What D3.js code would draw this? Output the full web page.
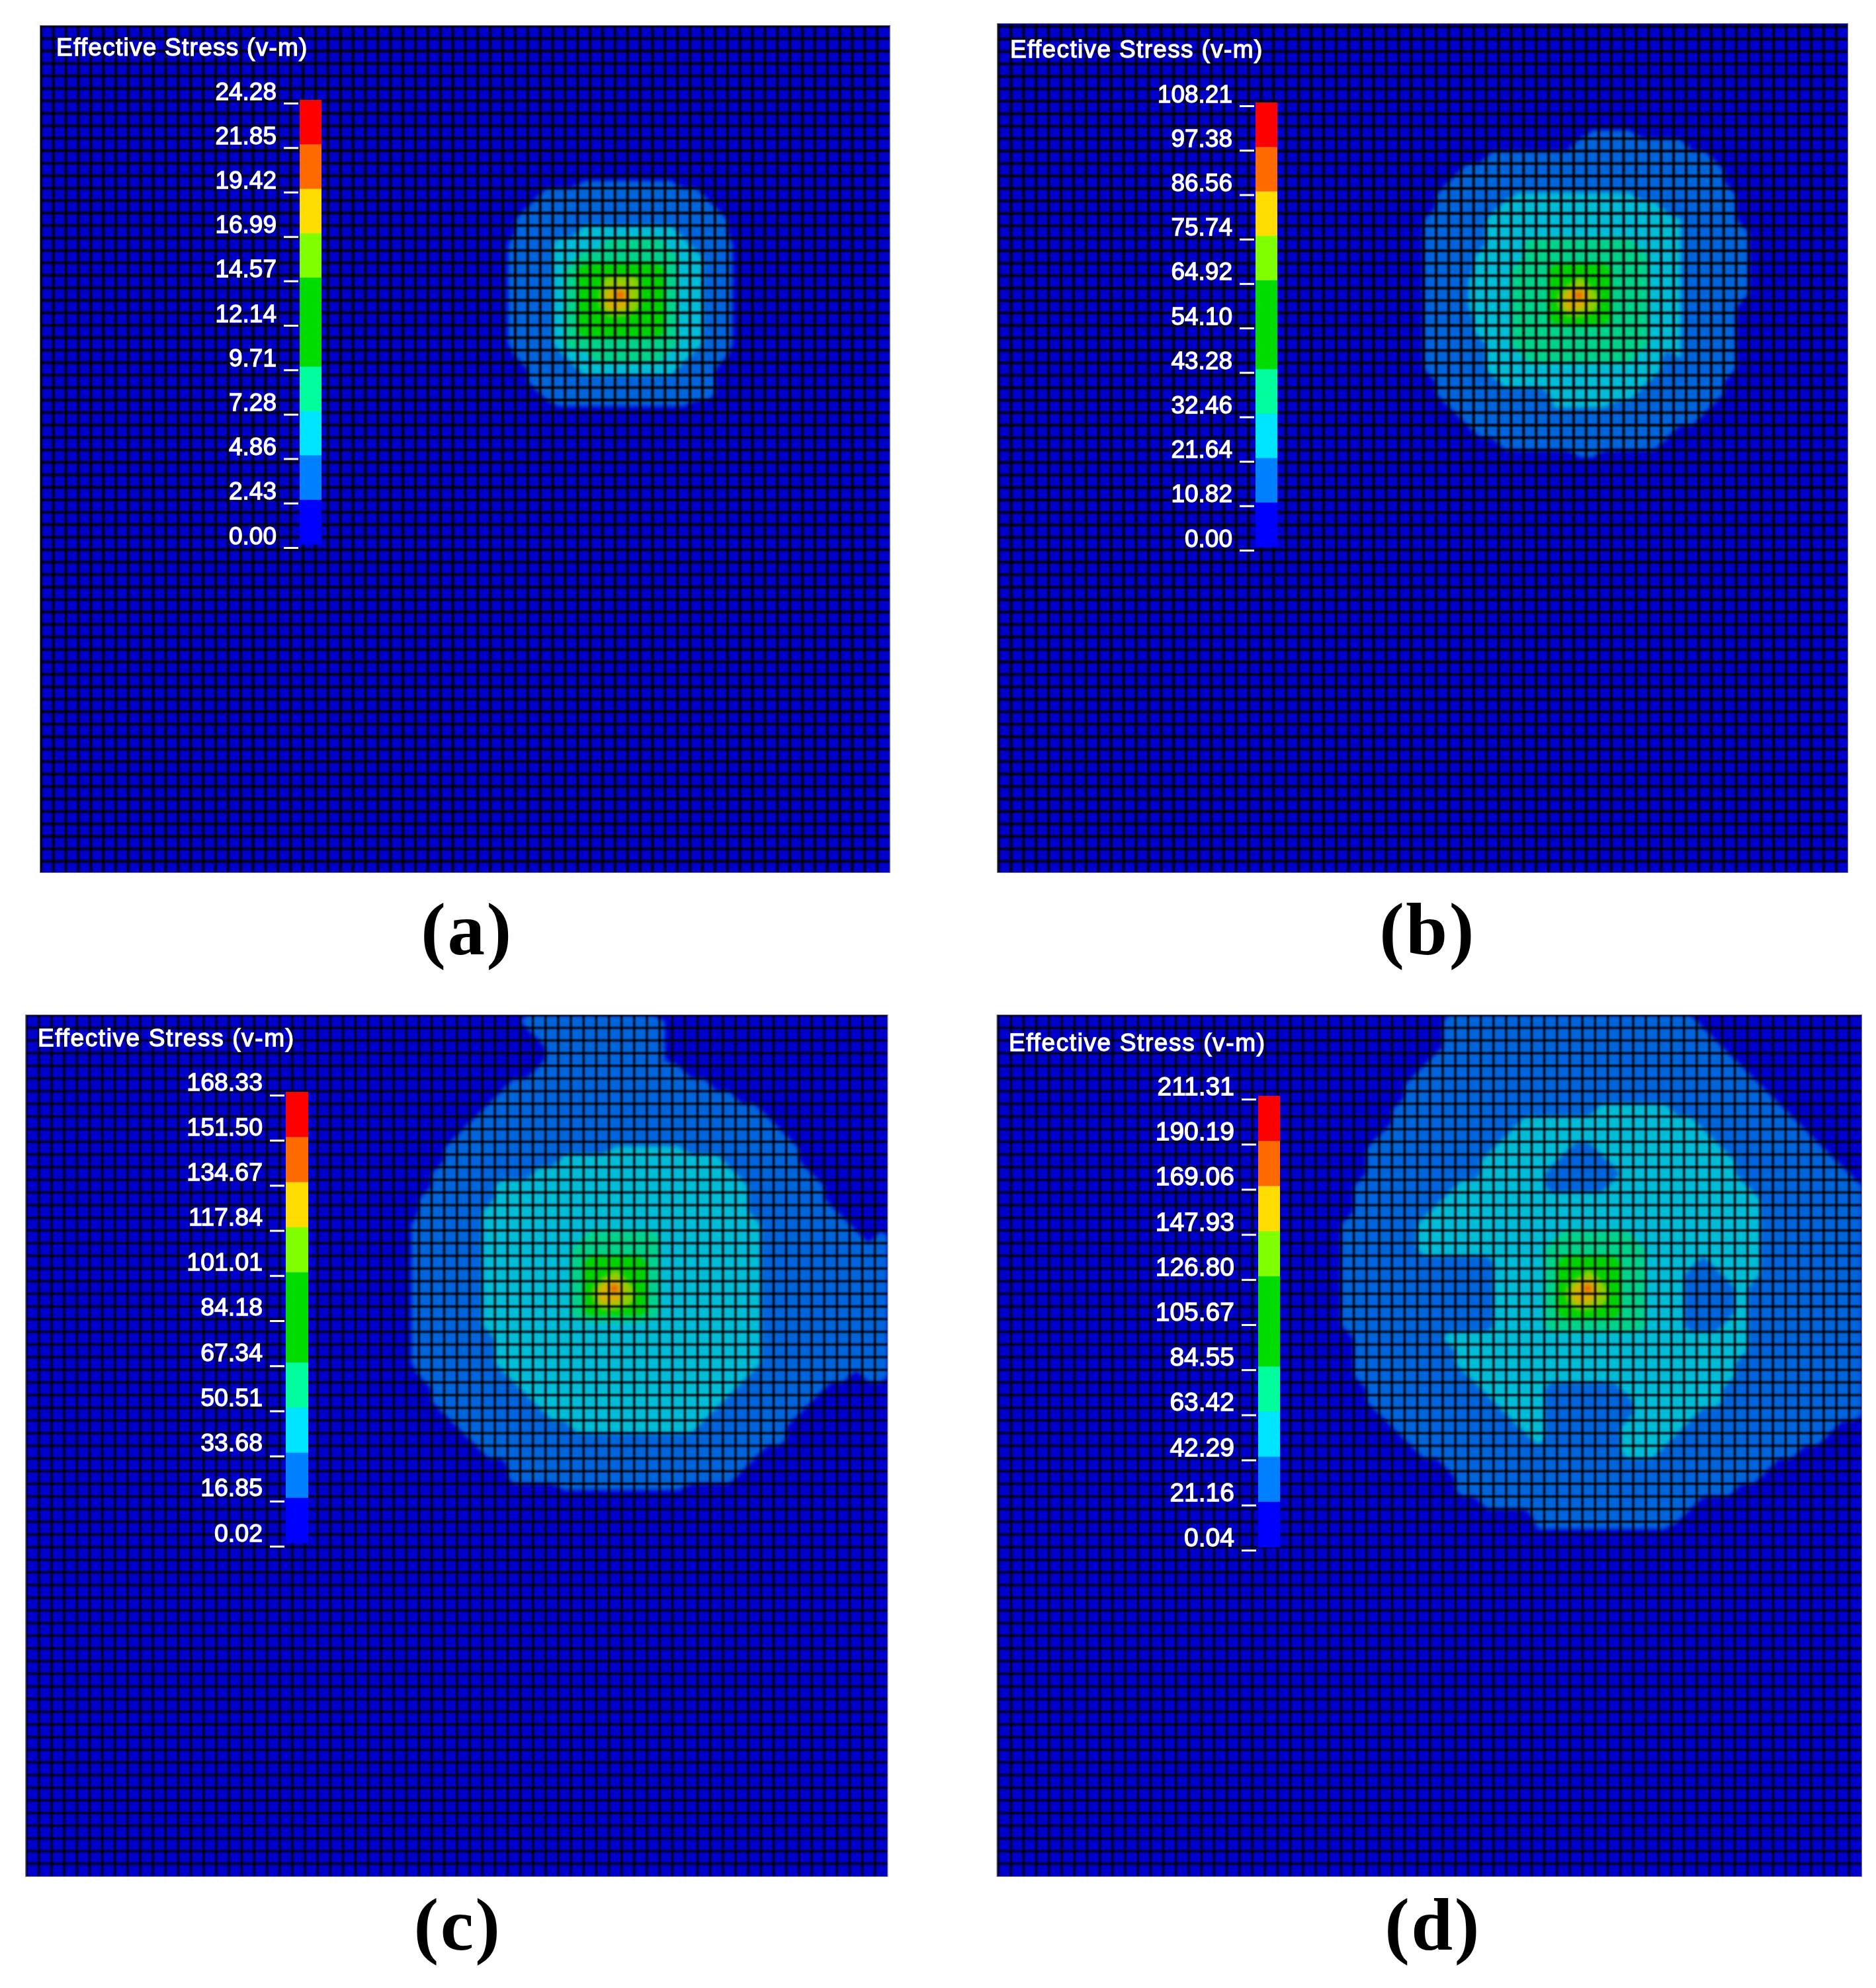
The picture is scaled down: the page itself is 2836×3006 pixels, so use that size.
<!DOCTYPE html>
<html>
<head>
<meta charset="utf-8">
<script src="https://cdn.jsdelivr.net/npm/d3@7"></script>
<style>
  html,body{margin:0;padding:0;background:#fff}
  text{font-family:"Liberation Sans",Arial,sans-serif}
</style>
</head>
<body>
<svg id="fig" width="2836" height="3006"></svg>
<script>
// legend values, top to bottom
var valuesA = [24.28,21.85,19.42,16.99,14.57,12.14,9.71,7.28,4.86,2.43,0.00];
var valuesB = [108.21,97.38,86.56,75.74,64.92,54.10,43.28,32.46,21.64,10.82,0.00];
var valuesC = [168.33,151.50,134.67,117.84,101.01,84.18,67.34,50.51,33.68,16.85,0.02];
var valuesD = [211.31,190.19,169.06,147.93,126.80,105.67,84.55,63.42,42.29,21.16,0.04];

// legend bar colours top to bottom, and how the same bands look on the lit mesh
var barColors = ["#ff0000","#ff6a00","#ffdc00","#7fff00","#00dc00","#00dc00","#00ff9c","#00e5ff","#0080ff","#0000ff"];
var fieldColors = ["#0000cd","#0064dc","#00bcd6","#00d28c","#00d200","#8ccf00","#d8b000","#f05a00"];

// stress band read per mesh cell: [band, rowFrom, rowTo, colFrom, colTo], later entries paint over earlier ones
// a fractional band means the contour crosses part way through that cell
var bandsA = [
  [0.55,12,12,43,50],[1,13,13,40,52],[1,14,14,39,53],[1,15,26,38,54],[1,27,28,39,53],[1,29,29,40,53],[0.5,30,30,41,51],
  [0.55,17,25,37,37],[0.45,17,25,55,55],
  [2,16,16,43,50],[2,17,17,41,51],[2,18,25,41,52],[2,26,26,42,51],[2,27,27,43,50],
  [3,17,17,45,49],[3,18,18,43,50],[3,19,25,42,50],[3,26,26,44,49],
  [4,19,24,43,49],[5,20,22,45,47],[6,21,22,45,45],[6,22,22,46,46],[7,21,21,46,46]
];
var bandsB = [
  [0.6,8,8,47,50],[1,9,9,46,54],[1,10,10,39,56],[1,11,11,37,57],[1,12,12,36,57],[1,13,14,35,58],[1,15,15,34,58],
  [1,16,21,34,59],[1,22,27,34,58],[1,28,29,35,57],[1,30,30,36,56],[1,31,31,37,55],[1,32,32,38,53],[1,33,33,40,52],[0.55,34,34,46,47],
  [1.6,13,13,41,50],[2,14,14,40,52],[2,15,17,39,53],[2,18,19,38,53],[2,20,22,38,53],[1.45,20,22,37,37],[2,23,24,38,53],[2,25,25,39,53],
  [2,26,27,39,52],[2,28,28,40,51],[2,29,29,44,50],[1.55,30,30,44,48],[1.55,15,26,54,54],
  [3,17,17,42,50],[3,18,18,42,51],[3,19,25,41,51],[3,26,26,42,50],
  [4,19,23,44,48],[5,21,22,45,47],[5,20,20,46,46],[6,21,22,45,45],[6,22,22,46,46],[7,21,21,46,46]
];
var bandsC = [
  [1,0,3,41,49],[1,0,0,39,40],[1,1,1,40,40],[0.45,0,3,50,50],[1,4,4,40,51],[1,5,5,38,53],[1,6,6,37,55],[1,7,7,36,57],[1,8,8,35,58],
  [1,9,9,34,59],[1,10,11,33,60],[1,12,12,32,61],[1,13,13,32,62],[1,14,14,31,62],[1,15,15,31,63],[1,16,16,31,64],
  [1,17,17,31,65],[1,17,17,67,67],[1,18,27,31,67],[0.55,16,27,30,30],[1,28,28,31,64],[1,28,28,66,67],[1,29,29,32,62],[1,30,30,32,61],
  [1,31,31,33,60],[1,32,32,34,59],[1,33,33,35,59],[1,34,34,36,57],[1,35,35,38,56],[1,36,36,38,55],[0.5,37,37,42,51],
  [1.6,10,10,46,51],[2,11,11,42,54],[2,12,12,40,55],[2,13,14,37,56],[2,15,15,36,56],[2,16,24,36,57],
  [2,25,27,37,57],[2,28,28,38,56],[2,29,29,39,55],[2,30,30,40,54],[2,31,31,41,53],[2,32,32,43,52],
  [3,17,17,44,49],[3,18,23,43,49],
  [4,19,23,44,48],[5,21,22,45,47],[5,20,20,46,46],[6,21,22,45,45],[6,22,22,46,46],[7,21,21,46,46]
];
var bandsD = [
  [1,0,0,35,54],[1,1,1,35,55],[1,2,2,35,56],[1,3,3,34,57],[1,4,4,33,58],[1,5,5,32,59],[1,6,6,32,60],[1,7,7,31,61],
  [1,8,8,31,62],[1,9,9,30,63],[1,10,10,29,64],[1,11,11,29,65],[1,12,12,29,66],[1,13,15,28,67],[1,16,24,27,67],
  [1,25,28,28,67],[1,29,30,29,67],[1,31,31,30,67],[1,32,32,31,65],[1,33,33,32,64],[1,34,34,33,62],[1,35,35,35,60],
  [1,36,36,36,59],[1,37,37,36,57],[1,38,38,38,54],[1,39,39,42,53],[0.55,40,40,42,52],
  [2,7,7,47,52],[2,8,8,41,54],[2,9,9,40,55],[2,10,10,39,56],[2,11,12,38,57],[2,13,13,36,58],[2,14,14,35,59],
  [2,15,15,34,59],[2,16,18,33,59],[2,19,20,39,59],[2,21,24,39,58],[2,25,25,35,58],[2,26,26,36,58],[2,27,27,36,57],
  [2,28,28,37,57],[2,29,29,38,56],[2,30,30,39,56],[2,31,31,40,54],[2,32,32,41,53],[2,33,33,42,42],[2,33,33,49,52],[2,34,34,49,51],
  // holes in the cyan band
  [1,10,10,45,46],[1,11,11,44,47],[1,12,12,43,48],[1,13,13,43,47],
  [1,19,19,55,55],[1,20,20,54,56],[1,21,23,54,57],[1,24,24,54,56],
  [1,29,29,43,48],[1,30,31,43,49],[1,32,32,43,48],
  [3,17,17,44,49],[3,18,24,43,50],
  [4,19,23,44,48],[5,21,22,45,47],[5,20,20,46,46],[6,21,22,45,45],[6,22,22,46,46],[7,21,21,46,46]
];

var panelNames = ["(a)","(b)","(c)","(d)"];
var titleText = "Effective Stress (v-m)";
var meshSize = 68;

// layout only, mesh origin and pitch
var layout = [
  {values:valuesA, bands:bandsA, left:60, top:38, right:1345.7, bottom:1320, x0:61.8, y0:39.4, px:18.87, py:18.85, line:3.6,
   titleX:85, titleY:84, spacing:1.26, barX:453, barW:33, tickTop:156, tickBot:828, tickX:451, labelDy:-6, labelSize:37, capX:706, capY:1443},
  {values:valuesB, bands:bandsB, left:1507.3, top:35, right:2794, bottom:1320, x0:1509.5, y0:40, px:18.9, py:18.84, line:3.6,
   titleX:1527, titleY:87, spacing:1.35, barX:1898, barW:33, tickTop:160, tickBot:832, tickX:1896, labelDy:-6, labelSize:37, capX:2158, capY:1443},
  {values:valuesC, bands:bandsC, left:38.5, top:1534, right:1342.3, bottom:2838, x0:39.6, y0:1535, px:19.15, py:19.15, line:3,
   titleX:57, titleY:1582, spacing:1.62, barX:432, barW:34, tickTop:1656, tickBot:2338, tickX:430, labelDy:-8, labelSize:37.5, capX:692, capY:2948},
  {values:valuesD, bands:bandsD, left:1506.7, top:1534, right:2815, bottom:2838, x0:1509, y0:1535, px:19.2, py:19.15, line:3,
   titleX:1525, titleY:1589, spacing:1.62, barX:1902, barW:33, tickTop:1662, tickBot:2344, tickX:1899, labelDy:-6.5, labelSize:39, capX:2166, capY:2948}
];

var svg = d3.select("#fig");
var defs = svg.append("defs");

function blur(id, sd){
  defs.append("filter").attr("id",id)
    .attr("x","-5%").attr("y","-5%").attr("width","110%").attr("height","110%")
    .attr("color-interpolation-filters","sRGB")
    .append("feGaussianBlur").attr("stdDeviation",sd);
}
blur("soft",3);
blur("line",0.9);
blur("txt",0.7);

layout.forEach(function(p,pi){
  var xScale = d3.scaleLinear().domain([0,meshSize]).range([p.x0,p.x0+meshSize*p.px]);
  var yScale = d3.scaleLinear().domain([0,meshSize]).range([p.y0,p.y0+meshSize*p.py]);

  defs.append("clipPath").attr("id","clip"+pi).append("rect")
    .attr("x",p.left).attr("y",p.top).attr("width",p.right-p.left).attr("height",p.bottom-p.top);

  var g = svg.append("g").attr("clip-path","url(#clip"+pi+")");
  g.append("rect").attr("x",p.left).attr("y",p.top).attr("width",p.right-p.left).attr("height",p.bottom-p.top)
    .attr("fill",fieldColors[0]);

  // fill the mesh with band numbers
  var grid = new Array(meshSize*meshSize).fill(0);
  p.bands.forEach(function(b){
    for(var r=b[1];r<=b[2];r++) for(var c=b[3];c<=b[4];c++) grid[r*meshSize+c]=b[0];
  });

  var thresholds = d3.range(1,fieldColors.length).map(function(k){return k-0.5;});
  var contours = d3.contours().size([meshSize,meshSize]).thresholds(thresholds)(grid);
  var path = d3.geoPath(d3.geoTransform({point:function(x,y){this.stream.point(xScale(x),yScale(y));}}));

  g.append("g").attr("filter","url(#soft)").selectAll("path")
    .data(contours).enter().append("path")
    .attr("d",path)
    .attr("fill",function(d,i){return fieldColors[i+1];});

  // mesh lines
  var mesh = g.append("g").attr("filter","url(#line)").attr("stroke","#000").attr("stroke-width",p.line);
  mesh.selectAll("line.v").data(d3.range(meshSize)).enter().append("line").attr("class","v")
    .attr("x1",function(d){return xScale(d);}).attr("x2",function(d){return xScale(d);})
    .attr("y1",p.top).attr("y2",p.bottom);
  mesh.selectAll("line.h").data(d3.range(meshSize)).enter().append("line").attr("class","h")
    .attr("y1",function(d){return yScale(d);}).attr("y2",function(d){return yScale(d);})
    .attr("x1",p.left).attr("x2",p.right);

  g.append("rect").attr("x",p.left).attr("y",p.top).attr("width",p.right-p.left).attr("height",p.bottom-p.top)
    .attr("fill","none").attr("stroke","#777").attr("stroke-width",2);

  // legend
  var vals = p.values;
  var legendY = d3.scaleLinear().domain([vals[vals.length-1],vals[0]]).range([p.tickBot,p.tickTop]);
  var leg = svg.append("g").attr("filter","url(#txt)");

  leg.selectAll("rect").data(barColors).enter().append("rect")
    .attr("x",p.barX).attr("width",p.barW)
    .attr("y",function(d,i){return legendY(vals[i])-5;})
    .attr("height",function(d,i){return legendY(vals[i+1])-legendY(vals[i])+0.5;})
    .attr("fill",function(d){return d;});

  var axis = d3.axisLeft(legendY).tickValues(vals).tickSize(22).tickPadding(11)
    .tickFormat(function(d){return d.toFixed(2);});
  var ax = leg.append("g").attr("transform","translate("+p.tickX+",0)").call(axis);
  ax.select(".domain").remove();
  ax.selectAll("line").attr("stroke","#fff").attr("stroke-width",3);
  ax.selectAll("text").attr("dy",0).attr("y",p.labelDy)
    .attr("fill","#fff").attr("stroke","#fff").attr("stroke-width",1.3)
    .attr("font-size",p.labelSize);

  leg.append("text").attr("x",p.titleX).attr("y",p.titleY)
    .attr("fill","#fff").attr("stroke","#fff").attr("stroke-width",1.3)
    .attr("font-size",37).attr("letter-spacing",p.spacing)
    .text(titleText);

  svg.append("text").attr("x",p.capX).attr("y",p.capY).attr("text-anchor","middle")
    .style("font-family","'Liberation Serif','Times New Roman',serif")
    .attr("font-weight","bold").attr("font-size",113).attr("letter-spacing",2.5).attr("fill","#000")
    .text(panelNames[pi]);
});
</script>
</body>
</html>
